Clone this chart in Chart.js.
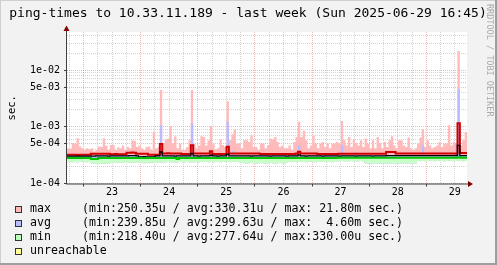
<!DOCTYPE html>
<html>
<head>
<meta charset="utf-8">
<script src="https://cdn.jsdelivr.net/npm/chart.js@4.4.1/dist/chart.umd.min.js"></script>
<style>
  html, body { margin: 0; padding: 0; background: #f2f2f2; }
  #wrap { width: 497px; height: 265px; }
</style>
</head>
<body>
<div id="wrap"><canvas id="pingChart" width="497" height="265"></canvas></div>
<script>
// ================== DATA ==================
// one sample per hour, left edge = 2025-06-22 17:06 (hours since 22 Jun 00:00)
const START_H = 17.1;
const dayLabels = ["23", "24", "25", "26", "27", "28", "29"];
const yLabelValues = [1e-4, 5e-4, 1e-3, 5e-3, 1e-2];
const yLabelTexts = ["1e-04", "5e-04", "1e-03", "5e-03", "1e-02"];

// values in microseconds
const maxTopUs = [
  420,410,520,500,630,450,420,390,420,400,420,370,
  390,450,440,630,470,390,480,480,390,430,420,470,
  390,440,420,580,560,440,470,420,390,440,450,390,
  820,420,440,4450,510,600,620,1030,520,680,420,510,
  390,390,440,580,4450,500,420,470,680,660,470,580,
  1030,510,400,420,600,480,440,2830,580,740,900,510,
  510,420,580,580,540,710,440,440,390,510,510,420,
  480,620,600,660,540,440,470,420,420,470,390,540,
  660,1230,660,850,580,420,470,700,510,420,510,540,
  440,510,420,500,510,540,510,1260,580,470,660,440,
  600,520,470,580,440,620,500,420,580,420,660,520,
  420,540,440,580,680,470,420,580,580,470,440,650,
  420,390,420,510,650,900,440,580,470,420,440,470,
  540,440,510,510,1070,470,540,510,21800,470,580,810
];
const avgTopUs = [
  314,316,312,314,318,314,312,314,316,314,312,314,
  340,314,316,314,312,314,316,318,314,312,314,316,
  314,318,322,320,318,314,312,310,312,310,312,314,
  316,314,316,1070,318,316,314,316,318,314,316,314,
  312,314,316,318,1140,316,314,312,314,316,318,314,
  330,316,314,312,314,316,318,1230,316,370,370,314,
  316,314,312,314,316,318,314,312,314,316,314,312,
  314,316,318,314,312,314,316,314,312,314,316,318,
  314,470,316,318,314,312,314,316,318,314,312,314,
  316,314,312,314,316,318,316,470,318,316,314,316,
  318,360,316,314,316,318,320,318,316,318,320,318,
  316,318,320,322,320,318,316,318,320,318,316,318,
  320,318,316,318,320,470,318,316,318,320,318,316,
  318,320,318,316,318,320,318,510,4600,320,318,320
];
const minLowUs = [
  240,242,238,240,236,240,244,240,238,240,224,222,
  220,224,222,226,222,224,232,234,230,232,236,232,
  230,232,234,236,232,230,234,232,228,232,234,232,
  232,236,232,234,238,236,240,238,236,234,238,240,
  238,236,240,238,236,238,240,238,240,242,240,238,
  240,238,242,240,238,240,242,240,238,240,242,240,
  238,230,228,226,228,230,228,226,228,230,228,226,
  228,230,228,226,228,230,228,226,238,240,242,240,
  238,240,242,240,238,240,242,240,238,240,242,240,
  240,242,240,238,240,248,246,250,248,246,248,250,
  248,246,248,250,248,228,226,224,226,228,226,224,
  226,228,226,224,226,228,226,224,226,228,226,224,
  226,228,226,250,252,250,248,250,252,250,248,250,
  252,250,248,250,252,250,248,250,252,250,248,250
];
const maxLineUs = [
  320,320,322,320,318,320,320,322,320,320,335,335,
  335,335,336,335,335,335,328,328,330,328,328,328,
  328,350,350,352,350,335,335,335,335,335,322,320,
  320,320,320,495,338,338,340,338,338,338,338,338,
  332,332,332,332,475,338,338,338,338,338,338,338,
  372,332,332,332,332,332,332,445,338,338,338,338,
  338,338,338,338,338,338,338,338,338,332,332,332,
  332,332,332,332,332,332,332,332,332,332,332,332,
  338,362,338,338,338,338,338,338,338,332,332,332,
  332,332,332,332,332,332,335,335,335,335,335,335,
  335,335,335,335,335,335,335,335,335,335,335,335,
  335,335,358,358,358,358,338,338,338,338,338,338,
  338,338,338,338,338,338,338,338,338,338,338,338,
  338,338,338,338,338,338,338,338,1150,345,345,345
];
const avgLineUs = [
  304,304,305,304,304,303,304,304,305,304,304,304,
  306,306,307,306,306,305,306,306,307,306,306,306,
  306,306,310,310,310,306,296,296,297,296,296,296,
  296,306,306,362,306,306,307,306,306,305,306,306,
  306,306,307,306,338,306,306,305,306,306,307,306,
  315,306,306,305,306,306,306,330,306,306,307,306,
  306,306,307,306,306,305,306,306,307,306,306,306,
  306,305,306,306,307,306,306,306,305,306,306,307,
  306,320,306,306,305,306,306,307,306,306,306,305,
  306,306,307,306,306,306,305,306,306,307,306,306,
  306,305,306,306,307,306,306,306,305,306,306,307,
  306,306,310,310,311,310,310,310,309,310,310,311,
  310,310,310,309,310,310,311,310,310,310,309,310,
  310,311,310,310,310,309,310,312,470,310,310,311
];
const minLineUs = [
  282,282,283,282,281,282,283,282,282,281,270,270,
  270,281,282,283,282,282,281,282,283,282,282,281,
  282,282,283,282,282,281,282,282,283,282,281,282,
  282,283,282,282,281,282,282,283,282,282,270,281,
  282,282,283,282,282,281,282,283,282,282,281,282,
  283,282,282,281,282,282,283,282,282,281,282,282,
  283,282,282,281,282,282,283,282,282,281,282,282,
  283,282,282,281,282,282,283,282,282,281,282,282,
  283,282,282,281,282,282,283,282,282,281,282,282,
  283,282,282,281,282,285,285,286,285,285,286,285,
  285,285,286,285,285,286,285,285,286,285,285,286,
  285,285,286,285,285,286,285,285,286,285,285,286,
  285,285,286,285,285,286,285,285,286,285,285,286,
  285,285,286,285,285,286,285,285,290,285,285,286
];

const legendNames = ["max", "avg", "min", "unreachable"];
const legendStats = [
  "(min:250.35u / avg:330.31u / max: 21.80m sec.)",
  "(min:239.85u / avg:299.63u / max:  4.60m sec.)",
  "(min:218.40u / avg:277.64u / max:330.00u sec.)",
  ""
];
const legendColors = ["#ffbbbb", "#bbbbff", "#bbffbb", "#ffff99"];

const GRID = "rgba(143,143,143,0.38)";
const MGRID = "rgba(222,80,80,0.42)";
const MONO = '"DejaVu Sans Mono", monospace';

// ================== HELPERS ==================
function steps(vals) {
  const pts = vals.map((v, i) => ({ x: START_H + i, y: v * 1e-6 }));
  pts.push({ x: START_H + vals.length, y: vals[vals.length - 1] * 1e-6 });
  return pts;
}

function isLabelled(v) {
  return yLabelValues.findIndex((l) => Math.abs(v / l - 1) < 1e-6);
}

// log grid: 1..9 x 10^n inside the axis range
const yGrid = [];
[1e-4, 1e-3, 1e-2].forEach((d) => {
  for (let k = 1; k <= 9; k++) if (k * d <= 0.047) yGrid.push(k * d);
});

function band(vals, color, target, order) {
  return {
    data: steps(vals), stepped: true, borderWidth: 0, borderColor: "transparent",
    backgroundColor: color, fill: target, order: order, pointRadius: 0,
  };
}
function line(vals, color, width, order) {
  return {
    data: steps(vals), stepped: true, borderWidth: width, borderColor: color,
    fill: false, order: order, pointRadius: 0,
  };
}

// ================== DECORATION PLUGIN ==================
const frame = {
  id: "frame",
  beforeDraw(chart) {
    const { ctx, chartArea: a } = chart;
    ctx.save();
    ctx.fillStyle = "#f2f2f2";
    ctx.fillRect(0, 0, chart.width, chart.height);
    ctx.fillStyle = "#ffffff";
    ctx.fillRect(a.left, a.top, a.right - a.left, a.bottom - a.top);
    // shaded border
    ctx.fillStyle = "#cfcfcf";
    ctx.fillRect(0, 0, chart.width, 1);
    ctx.fillRect(0, 0, 1, chart.height);
    ctx.fillStyle = "#9e9e9e";
    ctx.fillRect(0, chart.height - 2, chart.width, 2);
    ctx.fillRect(chart.width - 2, 0, 2, chart.height);
    ctx.restore();
  },
  afterDraw(chart) {
    const { ctx, chartArea: a } = chart;
    ctx.save();
    // axes
    ctx.strokeStyle = "#404040";
    ctx.lineWidth = 1;
    ctx.beginPath();
    ctx.moveTo(a.left - 0.5, a.bottom + 0.5);
    ctx.lineTo(a.left - 0.5, a.top - 3);
    ctx.moveTo(a.left - 1, a.bottom + 0.5);
    ctx.lineTo(a.right + 2, a.bottom + 0.5);
    ctx.stroke();
    ctx.fillStyle = "#7f0000";
    ctx.beginPath();
    ctx.moveTo(a.left - 0.5, a.top - 6.5);
    ctx.lineTo(a.left - 3.5, a.top - 1);
    ctx.lineTo(a.left + 2.5, a.top - 1);
    ctx.closePath();
    ctx.fill();
    ctx.beginPath();
    ctx.moveTo(a.right + 6, a.bottom + 0.5);
    ctx.lineTo(a.right + 1, a.bottom - 2.5);
    ctx.lineTo(a.right + 1, a.bottom + 3.5);
    ctx.closePath();
    ctx.fill();

    // title
    ctx.fillStyle = "#000";
    ctx.font = "13px " + MONO;
    ctx.textAlign = "center";
    ctx.textBaseline = "middle";
    ctx.fillText("ping-times to 10.33.11.189 - last week (Sun 2025-06-29 16:45)", 248, 13.5);

    // vertical unit label
    ctx.save();
    ctx.translate(12, (a.top + a.bottom) / 2);
    ctx.rotate(-Math.PI / 2);
    ctx.font = "10.5px " + MONO;
    ctx.fillText("sec.", 0, 0);
    ctx.restore();

    // watermark
    ctx.save();
    ctx.translate(489, 4);
    ctx.rotate(Math.PI / 2);
    ctx.textAlign = "left";
    ctx.fillStyle = "#aaaaaa";
    ctx.font = "8.5px " + MONO;
    ctx.fillText("RRDTOOL / TOBI OETIKER", 0, 0);
    ctx.restore();

    // legend
    ctx.font = "11.6px " + MONO;
    ctx.textAlign = "left";
    legendNames.forEach((name, i) => {
      const cy = 209.3 + i * 13.9;
      ctx.fillStyle = legendColors[i];
      ctx.fillRect(15, Math.round(cy - 3.3), 7, 7);
      ctx.strokeStyle = "#333";
      ctx.strokeRect(15.5, Math.round(cy - 3.3) + 0.5, 6, 6);
      ctx.fillStyle = "#000";
      ctx.fillText(name, 30, cy);
      if (legendStats[i]) ctx.fillText(legendStats[i], 82, cy);
    });
    ctx.restore();
  },
};

// ================== CHART ==================
new Chart(document.getElementById("pingChart"), {
  type: "line",
  data: {
    datasets: [
      { data: steps(minLowUs), stepped: true, borderWidth: 0, borderColor: "transparent", fill: false, order: 10, pointRadius: 0 },
      band(maxTopUs, "#ffbbbb", "-1", 9),
      band(avgTopUs, "#bbbbff", "-2", 8),
      band(minLineUs, "#c8ffc8", "-3", 7),
      line(maxLineUs, "#d00000", 2, 3),
      line(avgLineUs, "#000000", 1.3, 2),
      line(minLineUs, "#00c000", 2, 1),
    ],
  },
  options: {
    responsive: false,
    animation: false,
    devicePixelRatio: 1,
    layout: { padding: { top: 32, right: 30, left: 0, bottom: 0 } },
    plugins: { legend: { display: false }, tooltip: { enabled: false } },
    scales: {
      x: {
        type: "linear",
        min: START_H,
        max: START_H + 168,
        z: 1,
        afterBuildTicks: (s) => {
          const t = [];
          for (let h = Math.ceil(START_H / 6) * 6; h <= START_H + 168; h += 6) t.push({ value: h });
          s.ticks = t;
        },
        afterFit: (s) => { s.height = 81.5; },
        grid: {
          color: (c) => (c.tick && c.tick.value % 24 === 0 ? MGRID : GRID),
          tickLength: 3,
          tickColor: (c) => (c.tick && c.tick.value % 24 === 0 ? "#404040" : "transparent"),
        },
        border: { display: false, dash: [1, 1] },
        ticks: {
          autoSkip: false,
          maxRotation: 0,
          padding: 0,
          color: "#000",
          font: { family: MONO, size: 10 },
          callback: (v) => (v % 24 === 12 ? dayLabels[(v - 36) / 24] : ""),
        },
      },
      y: {
        type: "logarithmic",
        min: 1e-4,
        max: 0.047,
        z: 1,
        afterBuildTicks: (s) => { s.ticks = yGrid.map((v) => ({ value: v })); },
        afterFit: (s) => { s.width = 67; },
        grid: {
          color: (c) => (c.tick && isLabelled(c.tick.value) >= 0 ? MGRID : GRID),
          tickLength: 3,
          tickColor: (c) => (c.tick && isLabelled(c.tick.value) >= 0 ? "#404040" : "transparent"),
        },
        border: { display: false, dash: [1, 1] },
        ticks: {
          autoSkip: false,
          padding: 4,
          color: "#000",
          font: { family: MONO, size: 10 },
          callback: (v) => {
            const k = isLabelled(v);
            return k >= 0 ? yLabelTexts[k] : "";
          },
        },
      },
    },
  },
  plugins: [frame],
});
</script>
</body>
</html>
